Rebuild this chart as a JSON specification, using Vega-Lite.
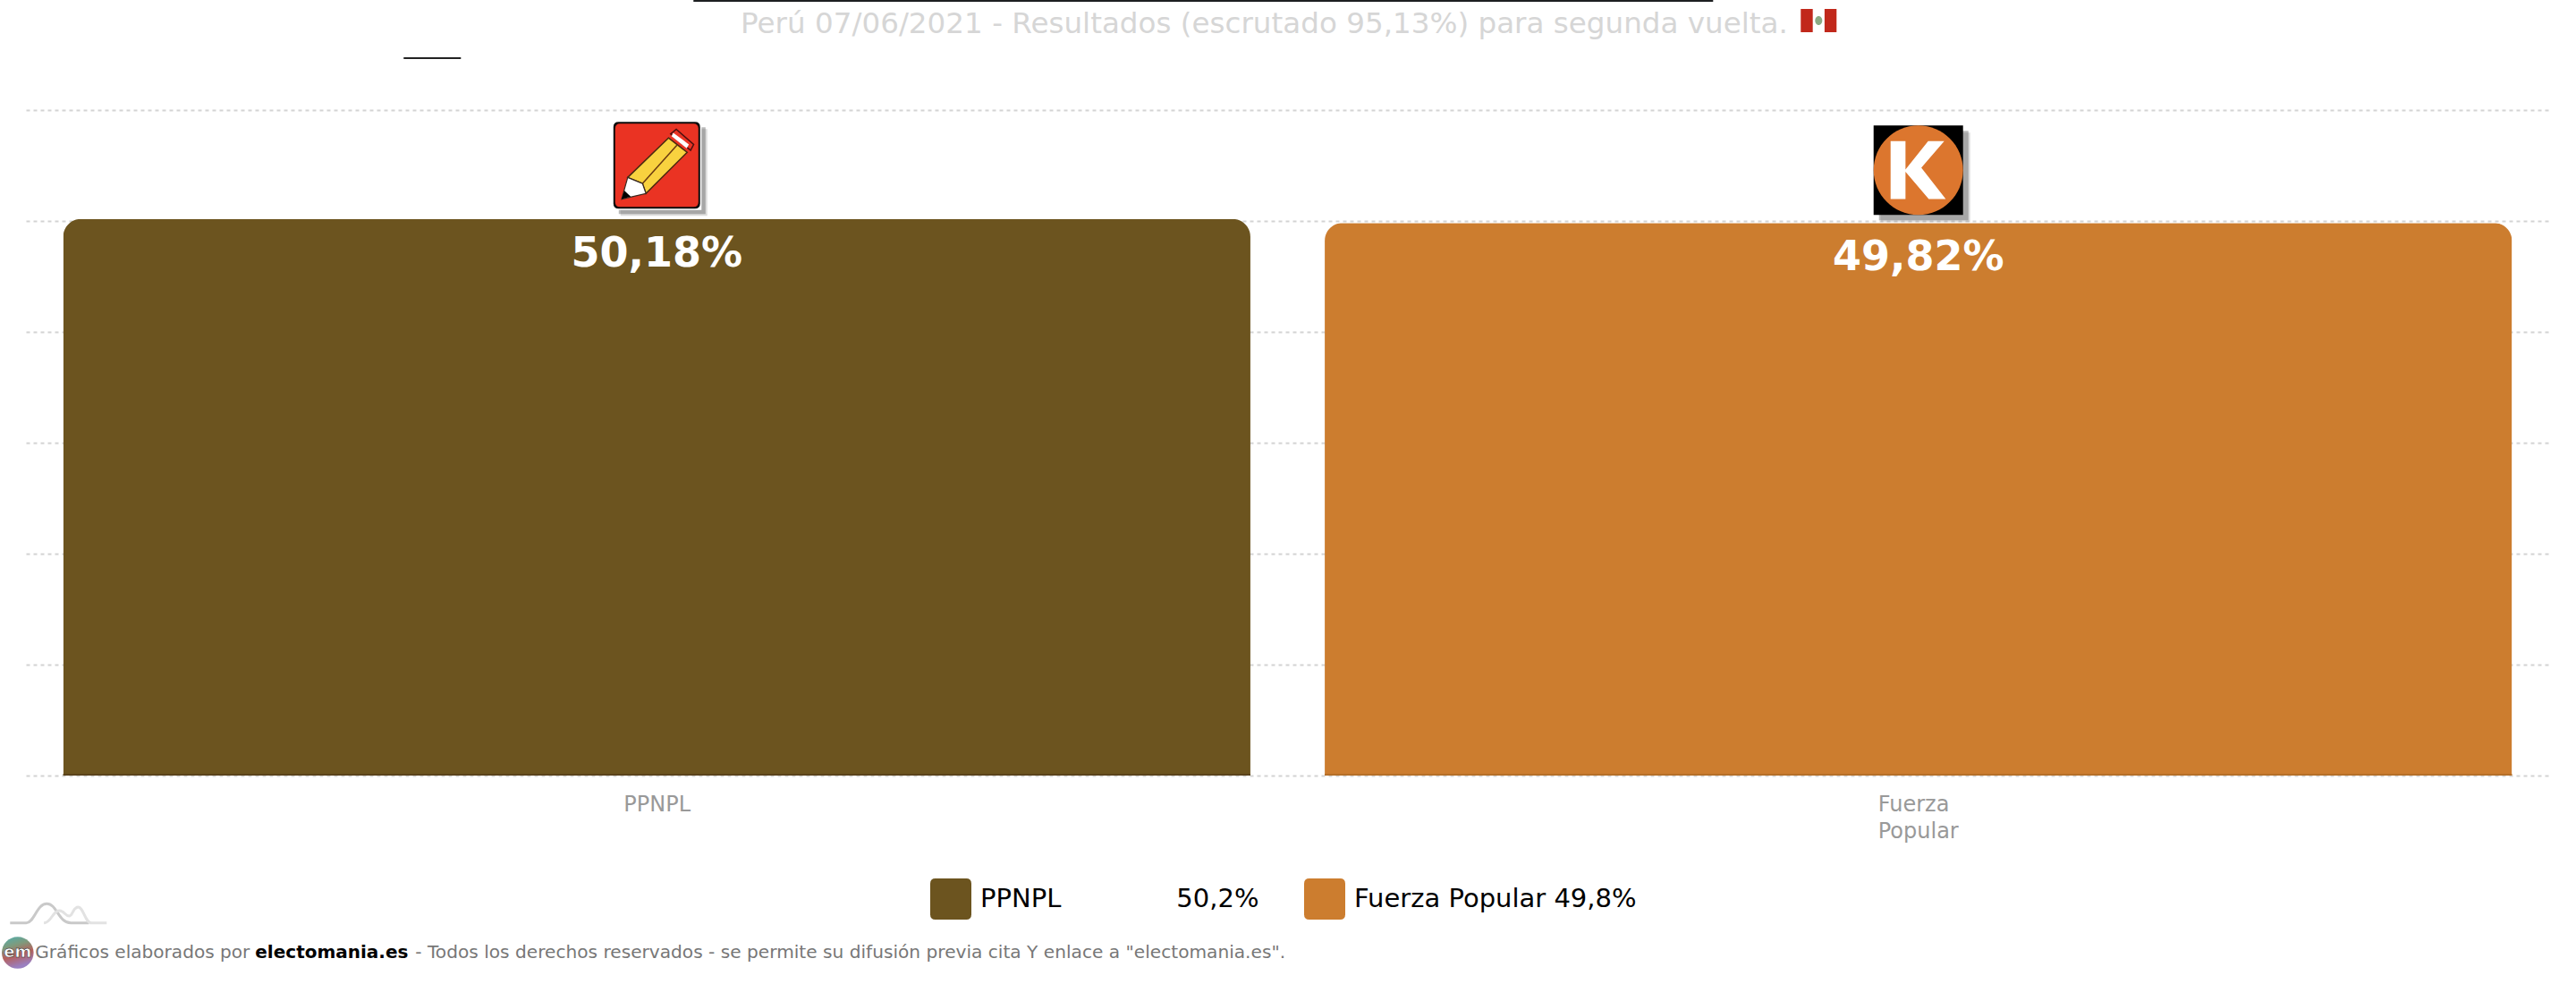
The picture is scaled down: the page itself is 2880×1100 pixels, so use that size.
{
  "$schema": "https://vega.github.io/schema/vega-lite/v6.json",
  "background": "white",
  "autosize": {"type": "none"},
  "padding": {"left": 29, "top": 123, "right": 30, "bottom": 233},
  "width": 2821,
  "height": 744,
  "title": {
    "text": "Perú 07/06/2021 - Resultados (escrutado 95,13%) para segunda vuelta.",
    "font": "DejaVu Sans",
    "fontSize": 32.6,
    "fontWeight": "normal",
    "color": "#d6d6d6",
    "anchor": "middle",
    "baseline": "alphabetic",
    "offset": 0,
    "dy": 70,
    "dx": -26
  },
  "config": {
    "font": "DejaVu Sans",
    "view": {"stroke": null},
    "point": {"filled": true, "opacity": 1, "strokeWidth": 0}
  },
  "data": {
    "values": [
      {"party": "PPNPL", "value": 50.18, "label": "50,18%", "legend": "PPNPL\u00a0\u00a0\u00a0\u00a0\u00a0\u00a0\u00a0\u00a0\u00a0\u00a0\u00a0\u00a0\u00a0\u00a050,2%"},
      {"party": "Fuerza Popular", "value": 49.82, "label": "49,82%", "legend": "Fuerza Popular 49,8%"}
    ]
  },
  "encoding": {
    "x": {
      "field": "party",
      "type": "nominal",
      "sort": null,
      "title": null,
      "scale": {"paddingInner": 0.0589, "paddingOuter": 0.0295},
      "axis": {
        "domain": false,
        "ticks": false,
        "labelAngle": 0,
        "labelFontSize": 24,
        "labelColor": "#999999",
        "labelPadding": 20,
        "labelLineHeight": 30,
        "labelOverlap": false,
        "labelBound": false,
        "labelFlush": false,
        "labelAlign": "left",
        "labelOffset": {"condition": {"test": "datum.value === 'PPNPL'", "value": -37}, "value": -45},
        "labelExpr": "split(datum.label, ' ')"
      }
    },
    "y": {
      "field": "value",
      "type": "quantitative",
      "title": null,
      "scale": {"domain": [0, 60], "nice": false},
      "axis": {
        "domain": false,
        "ticks": false,
        "labels": false,
        "values": [0, 10, 20, 30, 40, 50, 60],
        "grid": true,
        "gridColor": "#d3d3d3",
        "gridWidth": 2,
        "gridDash": [4, 4]
      }
    }
  },
  "layer": [
    {
      "mark": {"type": "bar", "cornerRadiusTopLeft": 20, "cornerRadiusTopRight": 20},
      "encoding": {
        "color": {
          "field": "legend",
          "type": "nominal",
          "sort": null,
          "scale": {"range": ["#6c541f", "#cc7d2f"]},
          "legend": {
            "orient": "none",
            "legendX": 1011,
            "legendY": 859,
            "title": null,
            "columns": 2,
            "columnPadding": 50,
            "symbolType": "M-0.75,-1H0.75Q1,-1 1,-0.75V0.75Q1,1 0.75,1H-0.75Q-1,1 -1,0.75V-0.75Q-1,-1 -0.75,-1Z",
            "symbolSize": 2116,
            "symbolStrokeWidth": 0,
            "labelFontSize": 29,
            "labelLimit": 700,
            "labelColor": "#000000",
            "labelOffset": 10
          }
        }
      }
    },
    {
      "transform": [{"filter": "datum.party === 'PPNPL'"}],
      "layer": [
        {"mark": {"type": "bar", "fill": "#5a431b"}, "encoding": {"y": {"datum": 0.17}, "y2": {"datum": 0}}},
        {"mark": {"type": "point", "shape": "M-1,-1H1V1H-1Z", "size": 9409, "fill": "#777777", "fillOpacity": 0.25, "xOffset": 8, "yOffset": -52}},
        {"mark": {"type": "point", "shape": "M-1,-1H1V1H-1Z", "size": 9409, "fill": "#666666", "fillOpacity": 0.45, "xOffset": 6, "yOffset": -54}},
        {"mark": {"type": "point", "shape": "M-1,-1H1V1H-1Z", "size": 10000, "fill": "#ffffff", "yOffset": -60}},
        {"mark": {"type": "point", "shape": "M-0.88,-1H0.88Q1,-1 1,-0.88V0.88Q1,1 0.88,1H-0.88Q-1,1 -1,0.88V-0.88Q-1,-1 -0.88,-1Z", "size": 9409, "fill": "#0c0c0c", "yOffset": -60}},
        {"mark": {"type": "point", "shape": "M-0.88,-1H0.88Q1,-1 1,-0.88V0.88Q1,1 0.88,1H-0.88Q-1,1 -1,0.88V-0.88Q-1,-1 -0.88,-1Z", "size": 8650, "fill": "#ea3323", "yOffset": -60}},
        {"mark": {"type": "point", "shape": "M0.45,-0.83L0.85,-0.48L0.78,-0.345L0.32,-0.72Z", "size": 9409, "fill": "#ea3323", "stroke": "#4a1010", "strokeWidth": 1.5, "yOffset": -60}},
        {"mark": {"type": "point", "shape": "M0.38,-0.75L0.74,-0.48L0.69,-0.39L0.34,-0.67Z", "size": 9409, "fill": "#ffffff", "yOffset": -60}},
        {"mark": {"type": "point", "shape": "M0.27,-0.63L0.7,-0.3L-0.25,0.65L-0.33,0.42L-0.67,0.28Z", "size": 9409, "fill": "#f8d23f", "stroke": "#4a2a10", "strokeWidth": 1.5, "yOffset": -60}},
        {"mark": {"type": "point", "shape": "M0.47,-0.47L-0.33,0.42", "size": 9409, "filled": false, "stroke": "#6a3a10", "strokeWidth": 1.5, "yOffset": -60}},
        {"mark": {"type": "point", "shape": "M-0.81,0.78L-0.67,0.28L-0.33,0.42L-0.25,0.65Z", "size": 9409, "fill": "#ffffff", "stroke": "#3a2a20", "strokeWidth": 1.2, "yOffset": -60}},
        {"mark": {"type": "point", "shape": "M-0.81,0.78L-0.75,0.58L-0.6,0.72Z", "size": 9409, "fill": "#000000", "yOffset": -60}},
        {"mark": {"type": "point", "shape": "M-1,-0.00175H1V0.00175H-1Z", "size": 1299600, "fill": "#1d1f21", "xOffset": 611}, "encoding": {"y": {"datum": 69.84}}},
        {"mark": {"type": "point", "shape": "M-1,-0.03H1V0.03H-1Z", "size": 4096, "fill": "#222222", "xOffset": -251}, "encoding": {"y": {"datum": 64.68}}},
        {"mark": {"type": "point", "shape": "M-1,-0.65H-0.33V0.65H-1ZM0.33,-0.65H1V0.65H0.33Z", "size": 1600, "fill": "#c1281b", "xOffset": 1299}, "encoding": {"y": {"datum": 68.06}}},
        {"mark": {"type": "point", "shape": "M-0.2,0A0.2,0.25 0 1,1 0.2,0A0.2,0.25 0 1,1 -0.2,0Z", "size": 1600, "fill": "#8aab84", "xOffset": 1299}, "encoding": {"y": {"datum": 68.06}}},
        {"mark": {"type": "point", "shape": "M-1,0.2H-0.667C-0.5,0.2 -0.45,-0.2 -0.24,-0.2C-0.03,-0.2 0,0.2 0.26,0.2H0.63", "size": 11664, "filled": false, "stroke": "#c9c9c9", "strokeWidth": 3, "xOffset": -669}, "encoding": {"y": {"datum": -12.42}}},
        {"mark": {"type": "point", "shape": "M-0.3,0.2C-0.15,0.2 -0.12,-0.055 0.02,-0.055C0.12,-0.055 0.14,0.055 0.22,0.055C0.3,0.055 0.3,-0.13 0.41,-0.13C0.52,-0.13 0.55,0.2 0.685,0.2H1", "size": 11664, "filled": false, "stroke": "#e2e2e2", "strokeWidth": 3, "xOffset": -669}, "encoding": {"y": {"datum": -12.42}}},
        {
          "mark": {
            "type": "point",
            "shape": "M-1,0A1,1 0 1,1 1,0A1,1 0 1,1 -1,0Z",
            "size": 1267,
            "xOffset": -714.5,
            "fill": {
              "gradient": "linear", "x1": 0, "y1": 0, "x2": 0.3, "y2": 1,
              "stops": [
                {"offset": 0, "color": "#4fb0b0"},
                {"offset": 0.35, "color": "#7f9a7c"},
                {"offset": 0.65, "color": "#b5605c"},
                {"offset": 1, "color": "#9a7fc0"}
              ]
            }
          },
          "encoding": {"y": {"datum": -15.97}}
        },
        {"mark": {"type": "text", "text": "em", "fontSize": 18, "font": "DejaVu Sans", "fontWeight": "bold", "fill": "#ffffff", "stroke": "#222222", "strokeWidth": 0.5, "baseline": "middle", "align": "center", "xOffset": -714.5}, "encoding": {"y": {"datum": -15.97}}},
        {"mark": {"type": "text", "text": "Gráficos elaborados por", "fontSize": 20.1, "fill": "#777777", "baseline": "middle", "align": "left", "xOffset": -695}, "encoding": {"y": {"datum": -15.97}}},
        {"mark": {"type": "text", "text": "electomania.es", "fontSize": 20, "fontWeight": "bold", "fill": "#000000", "baseline": "middle", "align": "left", "xOffset": -449}, "encoding": {"y": {"datum": -15.97}}},
        {"mark": {"type": "text", "text": "- Todos los derechos reservados - se permite su difusión previa cita Y enlace a \"electomania.es\".", "fontSize": 20.15, "fill": "#777777", "baseline": "middle", "align": "left", "xOffset": -270}, "encoding": {"y": {"datum": -15.97}}}
      ]
    },
    {
      "transform": [{"filter": "datum.party === 'Fuerza Popular'"}],
      "layer": [
        {"mark": {"type": "bar", "fill": "#b56f28"}, "encoding": {"y": {"datum": 0.17}, "y2": {"datum": 0}}},
        {"mark": {"type": "point", "shape": "M-1,-1H1V1H-1Z", "size": 10000, "fill": "#777777", "fillOpacity": 0.25, "xOffset": 8, "yOffset": -51}},
        {"mark": {"type": "point", "shape": "M-1,-1H1V1H-1Z", "size": 10000, "fill": "#666666", "fillOpacity": 0.45, "xOffset": 6, "yOffset": -53}},
        {"mark": {"type": "point", "shape": "M-1,-1H1V1H-1Z", "size": 10000, "fill": "#000000", "yOffset": -59}},
        {"mark": {"type": "point", "shape": "M-1,0A1,1 0 1,1 1,0A1,1 0 1,1 -1,0Z", "size": 10000, "fill": "#dc762e", "yOffset": -59}},
        {"mark": {"type": "point", "shape": "M-0.62,-0.65H-0.287V-0.013L0.22,-0.65H0.58L0.067,-0.053L0.613,0.647H0.233L-0.287,0.033V0.647H-0.62Z", "size": 10000, "fill": "#ffffff", "yOffset": -59}}
      ]
    },
    {
      "mark": {"type": "text", "fontSize": 46, "fontWeight": "bold", "fill": "#ffffff", "baseline": "alphabetic", "align": "center", "dy": 53},
      "encoding": {"text": {"field": "label"}}
    }
  ]
}
